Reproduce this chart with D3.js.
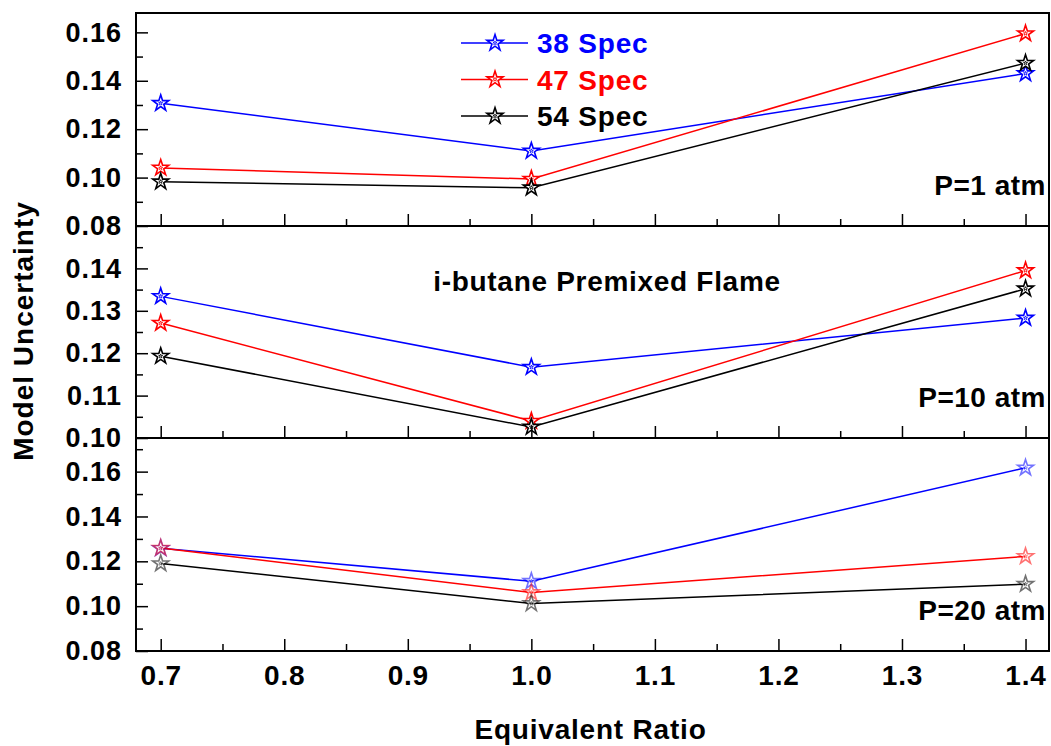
<!DOCTYPE html>
<html>
<meta charset="utf-8">
<head>
<title>Model Uncertainty</title>
<script src="https://cdn.jsdelivr.net/npm/d3@7"></script>
<style>
body { margin: 0; background: #fff; }
text { font-family: "Liberation Sans", Arial, sans-serif; font-weight: bold; fill: #000; }
.axis path { display: none; }
.axis line { stroke: #000; stroke-width: 1.5; }
</style>
</head>
<body>
<div id="grafico"></div>
<script>
// equivalence ratio
var phi = [0.7, 1.0, 1.4];
var series = ["38 Spec", "47 Spec", "54 Spec"];
var colors = ["#0000ff", "#ff0000", "#000000"];

// P = 1 atm
var p1_38 = [0.1307, 0.1110, 0.1430];
var p1_47 = [0.1040, 0.0994, 0.1595];
var p1_54 = [0.0983, 0.0958, 0.1473];
// P = 10 atm
var p10_38 = [0.1334, 0.1167, 0.1283];
var p10_47 = [0.1271, 0.1040, 0.1395];
var p10_54 = [0.1193, 0.1026, 0.1352];
// P = 20 atm
var p20_38 = [0.1258, 0.1111, 0.1617];
var p20_47 = [0.1259, 0.1061, 0.1222];
var p20_54 = [0.1190, 0.1012, 0.1098];

var xTicks = [0.7, 0.8, 0.9, 1.0, 1.1, 1.2, 1.3, 1.4];
var xMinor = [0.75, 0.85, 0.95, 1.05, 1.15, 1.25, 1.35];

var panels = [
	{ label: "P=1 atm", data: [p1_38, p1_47, p1_54], domain: [0.08, 0.168],
	  ticks: [0.08, 0.10, 0.12, 0.14, 0.16], minor: [0.09, 0.11, 0.13, 0.15], top: 13, bottom: 226, alpha: 1 },
	{ label: "P=10 atm", data: [p10_38, p10_47, p10_54], domain: [0.10, 0.15],
	  ticks: [0.10, 0.11, 0.12, 0.13, 0.14], minor: [0.105, 0.115, 0.125, 0.135, 0.145], top: 226, bottom: 438, alpha: 1 },
	{ label: "P=20 atm", data: [p20_38, p20_47, p20_54], domain: [0.08, 0.175],
	  ticks: [0.08, 0.10, 0.12, 0.14, 0.16], minor: [0.09, 0.11, 0.13, 0.15, 0.17], top: 438, bottom: 651, alpha: 0.55 }
];

var W = 1051, H = 746;
var left = 136, right = 1049;

var svg = d3.select("#grafico").append("svg")
	.attr("width", W)
	.attr("height", H);

var x = d3.scaleLinear().domain([0.68, 1.419]).range([left, right]);

var star = d3.symbol().type(d3.symbolStar).size(80);
var starSmall = d3.symbol().type(d3.symbolStar).size(5);

panels.forEach(function(p, k) {
	var y = d3.scaleLinear().domain(p.domain).range([p.bottom, p.top]);
	var g = svg.append("g");

	// lines
	p.data.forEach(function(vals, s) {
		var pts = phi.map(function(f, i) { return [f, vals[i]]; });
		g.append("path")
			.datum(pts)
			.attr("fill", "none")
			.attr("stroke", colors[s])
			.attr("stroke-width", 1.5)
			.attr("d", d3.line().x(function(d) { return x(d[0]); }).y(function(d) { return y(d[1]); }));
	});
	// markers
	p.data.forEach(function(vals, s) {
		var pts = phi.map(function(f, i) { return [f, vals[i]]; });
		var m = g.selectAll(".m" + s).data(pts).enter().append("g")
			.attr("transform", function(d) { return "translate(" + x(d[0]) + "," + y(d[1]) + ")"; })
			.attr("opacity", p.alpha);
		m.append("path").attr("d", star).attr("fill", "#fff").attr("stroke", colors[s]).attr("stroke-width", 1.6);
		m.append("path").attr("d", starSmall).attr("fill", "none").attr("stroke", colors[s]).attr("stroke-width", 0.8);
	});

	// y axis
	g.append("g").attr("class", "axis")
		.attr("transform", "translate(" + left + ",0)")
		.call(d3.axisLeft(y).tickValues(p.ticks).tickSize(-12).tickPadding(14).tickFormat(d3.format(".2f")))
		.selectAll("text").style("font-size", "27px").style("letter-spacing", "1px").style("font-family", null);
	g.append("g").attr("class", "axis")
		.attr("transform", "translate(" + left + ",0)")
		.call(d3.axisLeft(y).tickValues(p.minor).tickSize(-7).tickFormat(""));

	// x axis
	var xa = g.append("g").attr("class", "axis")
		.attr("transform", "translate(0," + p.bottom + ")")
		.call(d3.axisBottom(x).tickValues(xTicks).tickSize(-12).tickPadding(14).tickFormat(d3.format(".1f")));
	if (k < 2) xa.selectAll("text").remove();
	else xa.selectAll("text").style("font-size", "28px").style("letter-spacing", "0.8px").style("font-family", null);
	g.append("g").attr("class", "axis")
		.attr("transform", "translate(0," + p.bottom + ")")
		.call(d3.axisBottom(x).tickValues(xMinor).tickSize(-7).tickFormat(""));

	// frame
	g.append("rect")
		.attr("x", left).attr("y", p.top)
		.attr("width", right - left).attr("height", p.bottom - p.top)
		.attr("fill", "none").attr("stroke", "#000").attr("stroke-width", 2);

	// pressure label
	g.append("text")
		.attr("x", right - 3).attr("y", p.bottom - 31)
		.attr("text-anchor", "end")
		.style("font-size", "28px").style("letter-spacing", "0.5px")
		.text(p.label);
});

// legend in the first panel
var leg = svg.append("g");
series.forEach(function(name, s) {
	var ly = 43 + s * 36.5;
	leg.append("line").attr("x1", 461).attr("x2", 528).attr("y1", ly).attr("y2", ly)
		.attr("stroke", colors[s]).attr("stroke-width", 1.5);
	var m = leg.append("g").attr("transform", "translate(495," + ly + ")");
	m.append("path").attr("d", star).attr("fill", "#fff").attr("stroke", colors[s]).attr("stroke-width", 1.6);
	m.append("path").attr("d", starSmall).attr("fill", "none").attr("stroke", colors[s]).attr("stroke-width", 0.8);
	leg.append("text").attr("x", 537).attr("y", ly + 10)
		.style("font-size", "28px").style("letter-spacing", "0.8px").style("fill", colors[s])
		.text(name);
});

// title in second panel
svg.append("text")
	.attr("x", 607).attr("y", 291)
	.attr("text-anchor", "middle")
	.style("font-size", "28px").style("letter-spacing", "0.7px")
	.text("i-butane Premixed Flame");

// axis titles
svg.append("text")
	.attr("x", (left + right) / 2 - 2).attr("y", 739)
	.attr("text-anchor", "middle")
	.style("font-size", "28px").style("letter-spacing", "0.8px")
	.text("Equivalent Ratio");

svg.append("text")
	.attr("transform", "translate(33,331) rotate(-90)")
	.attr("text-anchor", "middle")
	.style("font-size", "28px").style("letter-spacing", "1px")
	.text("Model Uncertainty");
</script>
</body>
</html>
